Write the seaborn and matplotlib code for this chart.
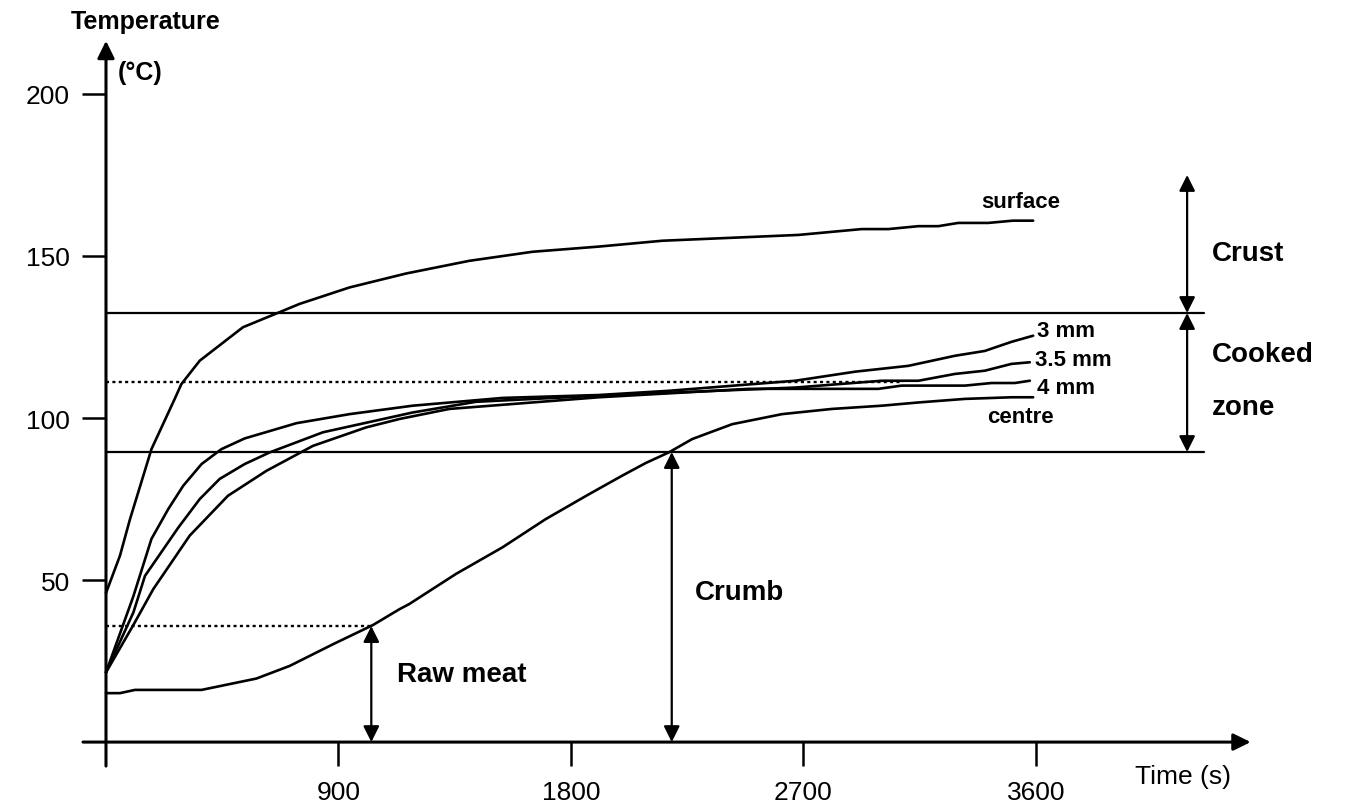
import numpy as np
import pandas as pd
import seaborn as sns
import matplotlib.pyplot as plt

# temperature probes (time in s, temperature in degC)
surface_t = [0, 54, 93, 176, 266, 292, 363, 530, 749, 943, 1162, 1406, 1651, 1908, 2153, 2681,
             2925, 3028, 3145, 3222, 3299, 3415, 3511, 3589]
surface_T = [46, 57.5, 68.8, 90.4, 105.9, 110.5, 117.7, 128, 135.2, 140.3, 144.6, 148.5, 151.3,
             152.9, 154.7, 156.5, 158.3, 158.3, 159.2, 159.2, 160.2, 160.2, 160.9, 160.9]

mm3_t = [0, 106, 176, 241, 299, 370, 447, 537, 737, 943, 1187, 1535, 1908, 2179, 2668, 2900,
         3106, 3286, 3402, 3505, 3589]
mm3_T = [21.5, 45, 62.7, 71.9, 79.1, 85.8, 90.4, 93.7, 98.4, 101.2, 103.8, 106.2, 107.1, 108.4,
         111.5, 114.3, 116.1, 119.2, 120.7, 123.5, 125.4]

mm35_t = [0, 106, 151, 280, 363, 440, 537, 634, 840, 1187, 1432, 1908, 2668, 3003, 3145, 3286,
          3402, 3505, 3576]
mm35_T = [21.5, 40, 51.3, 66.2, 75, 81.2, 85.8, 89.4, 95.6, 101.7, 105, 106.9, 109.4, 111.5,
          111.5, 113.6, 114.6, 116.7, 117.2]

mm4_t = [0, 105, 183, 324, 472, 621, 801, 1007, 1136, 1329, 1908, 2488, 2990, 3080, 3325, 3428,
         3518, 3576]
mm4_T = [21.5, 36, 47.2, 63.7, 76, 83.7, 91.4, 97.1, 99.7, 102.8, 106.4, 109, 109, 110, 110,
         110.8, 110.8, 111.5]

centre_t = [0, 54, 112, 370, 582, 711, 879, 1033, 1136, 1174, 1355, 1535, 1702, 1870, 1998, 2089,
            2179, 2269, 2424, 2617, 2810, 3003, 3145, 3325, 3505, 3589]
centre_T = [15.1, 15.1, 16.1, 16.1, 19.6, 23.5, 30.2, 36.1, 41, 42.6, 51.9, 60.1, 68.8, 76.5,
            82.2, 86.1, 89.4, 93.5, 98.1, 101.2, 102.8, 103.8, 104.8, 105.9, 106.4, 106.4]

# zone limits
crust_limit = 132.4
crumb_limit = 89.5
cooked_ref = 111.1
raw_ref = 35.8

x_ticks = [900, 1800, 2700, 3600]
y_ticks = [50, 100, 150, 200]

frames = []
for name, t, T in [('surface', surface_t, surface_T), ('3 mm', mm3_t, mm3_T),
                   ('3.5 mm', mm35_t, mm35_T), ('4 mm', mm4_t, mm4_T),
                   ('centre', centre_t, centre_T)]:
    frames.append(pd.DataFrame({'time': t, 'temp': T, 'probe': name}))
df = pd.concat(frames, ignore_index=True)

sns.set_style('white')
plt.rcParams['font.family'] = ['Liberation Sans', 'DejaVu Sans']
plt.rcParams['text.color'] = 'black'

fig = plt.figure(figsize=(13.54, 8.04), dpi=100)
ax = fig.add_axes([0, 0, 1, 1])
ax.set_xlim(-410.3, 4831)
ax.set_ylim(-18.8, 229.3)

sns.lineplot(data=df, x='time', y='temp', units='probe', estimator=None, sort=False,
             color='black', lw=1.9, ax=ax, legend=False)

# zone boundaries
ax.plot([0, 4250], [crust_limit, crust_limit], color='black', lw=1.6)
ax.plot([0, 4250], [crumb_limit, crumb_limit], color='black', lw=1.6)
ax.plot([0, 3087], [cooked_ref, cooked_ref], color='black', lw=1.7, ls=(0, (1.3, 1.4)))
ax.plot([0, 1027], [raw_ref, raw_ref], color='black', lw=1.7, ls=(0, (1.3, 1.4)))

# axes with arrows
ax_arrow = dict(arrowstyle='-|>,head_length=0.65,head_width=0.32', lw=2.2, color='black',
                mutation_scale=16, shrinkA=0, shrinkB=0)
ax.annotate('', xy=(4431, 0), xytext=(-89, 0), arrowprops=ax_arrow)
ax.annotate('', xy=(0, 216.4), xytext=(0, -7.4), arrowprops=ax_arrow)

# zone arrows
dbl = dict(arrowstyle='<|-|>,head_length=0.6,head_width=0.3', lw=1.6, color='black',
           mutation_scale=16, shrinkA=0, shrinkB=0)
ax.annotate('', xy=(4185, 175), xytext=(4185, crust_limit), arrowprops=dbl)
ax.annotate('', xy=(4185, crust_limit), xytext=(4185, crumb_limit), arrowprops=dbl)
ax.annotate('', xy=(1027, raw_ref), xytext=(1027, 0), arrowprops=dbl)
ax.annotate('', xy=(2190, crumb_limit), xytext=(2190, 0), arrowprops=dbl)

# ticks on axes through origin
for s in ax.spines.values():
    s.set_visible(False)
ax.spines['left'].set_position(('data', 0))
ax.spines['bottom'].set_position(('data', 0))
ax.set_xticks(x_ticks)
ax.set_yticks(y_ticks)
ax.tick_params(axis='both', bottom=True, left=True, direction='out', length=17, width=1.8,
               labelsize=19, colors='black')
ax.tick_params(axis='x', pad=10)
ax.tick_params(axis='y', pad=9)
ax.set_xlabel('')
ax.set_ylabel('')

# texts
ax.text(152, 222.5, 'Temperature', fontsize=18, fontweight='bold', ha='center', va='center')
ax.text(46, 206.8, '(°C)', fontsize=18, fontweight='bold', ha='left', va='center')
ax.text(3983, -10.5, 'Time (s)', fontsize=19, ha='left', va='center')

ax.text(3542, 166.7, 'surface', fontsize=16, fontweight='bold', ha='center', va='center')
ax.text(3604, 126.9, '3 mm', fontsize=16, fontweight='bold', ha='left', va='center')
ax.text(3596, 118.2, '3.5 mm', fontsize=16, fontweight='bold', ha='left', va='center')
ax.text(3604, 109.3, '4 mm', fontsize=16, fontweight='bold', ha='left', va='center')
ax.text(3538, 100.6, 'centre', fontsize=16, fontweight='bold', ha='center', va='center')

ax.text(4281, 150.9, 'Crust', fontsize=20, fontweight='bold', ha='left', va='center')
ax.text(4281, 119.8, 'Cooked', fontsize=20, fontweight='bold', ha='left', va='center')
ax.text(4281, 103.4, 'zone', fontsize=20, fontweight='bold', ha='left', va='center')
ax.text(2280, 46.3, 'Crumb', fontsize=20, fontweight='bold', ha='left', va='center')
ax.text(1126, 21, 'Raw meat', fontsize=20, fontweight='bold', ha='left', va='center')

fig.savefig('out.png', dpi=100)
